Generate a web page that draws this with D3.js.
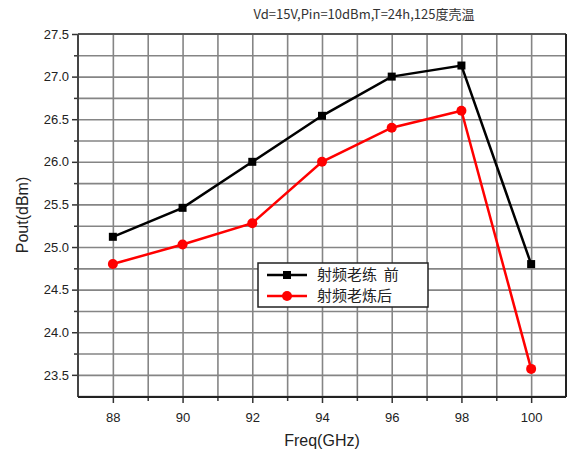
<!DOCTYPE html>
<html>
<head>
<meta charset="utf-8">
<script src="https://cdn.jsdelivr.net/npm/d3@7"></script>
<style>
body{margin:0;background:#fff;}
text{font-family:Arial,"Liberation Sans",sans-serif;}
</style>
</head>
<body>
<svg id="chart" width="569" height="454"></svg>
<script>
const freqs = [88, 90, 92, 94, 96, 98, 100];
const before = [25.12, 25.46, 26.0, 26.54, 27.0, 27.13, 24.8];
const after = [24.8, 25.03, 25.28, 26.0, 26.4, 26.6, 23.57];
const seriesNames = ["射频老练  前", "射频老炼后"];
const yTicks = [23.5, 24.0, 24.5, 25.0, 25.5, 26.0, 26.5, 27.0, 27.5];

const svg = d3.select("#chart"),
margin = {top:34,right:3,bottom:57,left:78},
width = +svg.attr("width") - margin.left - margin.right,
height = +svg.attr("height") - margin.top - margin.bottom;

const g = svg.append("g")
.attr("transform",`translate(${margin.left},${margin.top})`);

const x = d3.scaleLinear().domain([87,101]).range([0,width]);
const y = d3.scaleLinear().domain([23.24,27.5]).range([height,0]);

// grid, drawn with axes so every integer GHz and every 0.25 dBm gets a line
const xGrid = g.append("g").attr("transform",`translate(0,${height})`)
.call(d3.axisBottom(x).tickValues(d3.range(88,101)).tickSize(-height).tickFormat(""));
const yGrid = g.append("g")
.call(d3.axisLeft(y).tickValues(d3.range(23.25,27.5,0.25)).tickSize(-width).tickFormat(""));
[xGrid,yGrid].forEach(a=>{
    a.select(".domain").remove();
    a.selectAll(".tick line").attr("stroke","#858585").attr("stroke-width",1.6);
});

// axes
const xAxis = g.append("g").attr("transform",`translate(0,${height})`)
.call(d3.axisBottom(x).tickValues(freqs).tickFormat(d3.format("d")).tickSize(6).tickSizeOuter(0));
const xMinor = g.append("g").attr("transform",`translate(0,${height})`)
.call(d3.axisBottom(x).tickValues(d3.range(89,101,2)).tickFormat("").tickSize(4).tickSizeOuter(0));
const yAxis = g.append("g")
.call(d3.axisLeft(y).tickValues(yTicks).tickFormat(d3.format(".1f")).tickSize(6).tickSizeOuter(0));
const yMinor = g.append("g")
.call(d3.axisLeft(y).tickValues(d3.range(23.75,27.5,0.5)).tickFormat("").tickSize(4).tickSizeOuter(0));

[xAxis,xMinor,yAxis,yMinor].forEach(a=>{
    a.select(".domain").remove();
    a.selectAll(".tick line").attr("stroke","#333").attr("stroke-width",1.5);
    a.selectAll("text").attr("fill","#222").style("font-size","13px");
});
xAxis.selectAll("text").attr("dy","1.2em");

// frame
g.append("line").attr("x1",0).attr("x2",width).attr("y1",0).attr("y2",0).attr("stroke","#555").attr("stroke-width",2);
g.append("line").attr("x1",width).attr("x2",width).attr("y1",0).attr("y2",height).attr("stroke","#222").attr("stroke-width",2);
g.append("line").attr("x1",0).attr("x2",0).attr("y1",0).attr("y2",height).attr("stroke","#444").attr("stroke-width",2);
g.append("line").attr("x1",0).attr("x2",width).attr("y1",height).attr("y2",height).attr("stroke","#222").attr("stroke-width",2);

// lines
const line = d3.line().x((d,i)=>x(freqs[i])).y(d=>y(d));
g.append("path").datum(before).attr("d",line).attr("fill","none").attr("stroke","#000").attr("stroke-width",2.5);
g.append("path").datum(after).attr("d",line).attr("fill","none").attr("stroke","#ff0000").attr("stroke-width",2.5);

g.selectAll(".sq").data(before).join("rect")
.attr("class","sq")
.attr("x",(d,i)=>x(freqs[i])-4).attr("y",d=>y(d)-4)
.attr("width",8).attr("height",8).attr("fill","#000");
g.selectAll(".ci").data(after).join("circle")
.attr("class","ci")
.attr("cx",(d,i)=>x(freqs[i])).attr("cy",d=>y(d))
.attr("r",5).attr("fill","#ff0000");

// title
svg.append("text").attr("x",364).attr("y",19).attr("text-anchor","middle")
.style("font-family","'Noto Sans CJK SC',sans-serif").style("font-size","13px").attr("fill","#333")
.text("Vd=15V,Pin=10dBm,T=24h,125度壳温");

// axis labels
svg.append("text").attr("x",322).attr("y",446).attr("text-anchor","middle")
.style("font-size","16px").attr("fill","#222").text("Freq(GHz)");
svg.append("text").attr("transform","translate(28,215) rotate(-90)").attr("text-anchor","middle")
.style("font-size","16px").attr("fill","#222").text("Pout(dBm)");

// Legend
const legend = svg.append("g").attr("transform","translate(258,263)");
legend.append("rect").attr("width",170).attr("height",44)
.attr("fill","#fff").attr("stroke","#222").attr("stroke-width",1.5);
const items = [
 {color:"#000", text:seriesNames[0], shape:"square"},
 {color:"#ff0000", text:seriesNames[1], shape:"circle"}
];
items.forEach((item,i)=>{
    const yy = 12 + i*21;
    legend.append("line").attr("x1",9).attr("x2",49).attr("y1",yy).attr("y2",yy)
    .attr("stroke",item.color).attr("stroke-width",2.5);
    if(item.shape==="square"){
        legend.append("rect").attr("x",25).attr("y",yy-4).attr("width",8).attr("height",8).attr("fill",item.color);
    }else{
        legend.append("circle").attr("cx",29).attr("cy",yy).attr("r",5).attr("fill",item.color);
    }
    legend.append("text").attr("x",59).attr("y",yy+5)
    .style("font-family","'Noto Sans CJK SC',sans-serif").style("font-size","15px")
    .style("white-space","pre").attr("fill","#222")
    .text(item.text);
});
</script>
</body>
</html>
